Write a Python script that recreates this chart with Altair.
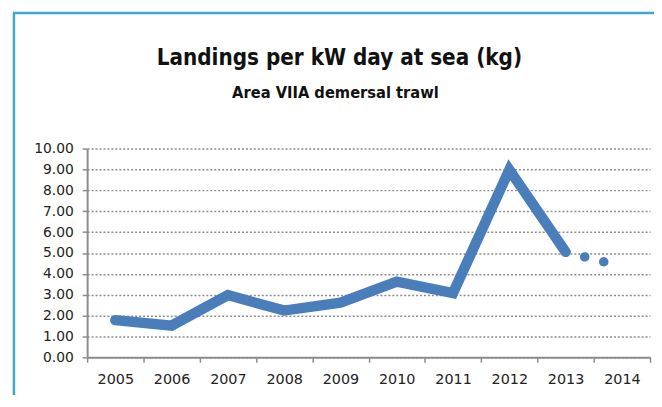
import altair as alt
import pandas as pd

years = ["2005", "2006", "2007", "2008", "2009", "2010", "2011", "2012", "2013", "2014"]
values = [1.78, 1.52, 2.98, 2.24, 2.62, 3.62, 3.08, 8.98, 5.05, 4.35]
solid_years = years[:9]
dotted_years = years[8:]
y_ticks = [0, 1, 2, 3, 4, 5, 6, 7, 8, 9, 10]
title_text = "Landings per kW day at sea (kg)"
subtitle_text = "Area VIIA demersal trawl"

df = pd.DataFrame({"year": years, "value": values})
df_solid = df[df["year"].isin(solid_years)]
df_dot = df[df["year"].isin(dotted_years)]
df_one = pd.DataFrame({"title": [title_text], "subtitle": [subtitle_text]})

LINE = "#4a7ebb"
BORDER = "#40a8cc"

x_axis = alt.Axis(
    title=None, labelAngle=0, tickBand="extent", grid=False,
    domainColor="#8c8c8c", domainWidth=2, tickColor="#8c8c8c", tickWidth=1.5,
    tickSize=5, labelPadding=10, labelFont="DejaVu Sans", labelFontSize=14.5,
    labelColor="#222222",
)
y_axis = alt.Axis(
    title=None, values=y_ticks, format=".2f", labelOverlap=False, tickCount=11,
    grid=True, gridColor="#8c8c8c", gridDash=[2, 2], gridWidth=1.5,
    domainColor="#8c8c8c", domainWidth=2, tickColor="#8c8c8c", tickWidth=1.5,
    tickSize=5, labelPadding=9, labelFont="DejaVu Sans", labelFontSize=14,
    labelColor="#222222",
)
x_scale = alt.Scale(type="band", paddingInner=0, paddingOuter=0, domain=years)
y_scale = alt.Scale(domain=[0, 10], nice=False)

solid = alt.Chart(df_solid).mark_line(
    color=LINE, strokeWidth=10.5, strokeCap="round", strokeJoin="miter"
).encode(
    x=alt.X("year:N", sort=years, scale=x_scale, axis=x_axis),
    y=alt.Y("value:Q", scale=y_scale, axis=y_axis),
)

dotted = alt.Chart(df_dot).mark_line(
    color=LINE, strokeWidth=9.5, strokeCap="round", strokeDash=[0.1, 19.8]
).encode(
    x=alt.X("year:N", sort=years, scale=x_scale, axis=x_axis),
    y=alt.Y("value:Q", scale=y_scale, axis=y_axis),
)

border_left = alt.Chart(df_one).mark_rule(color=BORDER, strokeWidth=2.5).encode(
    x=alt.value(-74), y=alt.value(-137), y2=alt.value(300)
)
border_top = alt.Chart(df_one).mark_rule(color=BORDER, strokeWidth=2.5).encode(
    x=alt.value(-75), x2=alt.value(600), y=alt.value(-137)
)

title_mark = alt.Chart(df_one).mark_text(
    font="DejaVu Sans Condensed", fontSize=22.5, fontWeight="bold", color="#111111",
    align="center", baseline="middle",
).encode(text="title:N", x=alt.value(255), y=alt.value(-91))

subtitle_mark = alt.Chart(df_one).mark_text(
    font="DejaVu Sans Condensed", fontSize=16.5, fontWeight="bold", color="#111111",
    align="center", baseline="middle",
).encode(text="subtitle:N", x=alt.value(251), y=alt.value(-56))

chart = alt.layer(solid, dotted, border_left, border_top, title_mark, subtitle_mark).properties(
    width=569,
    height=211,
    autosize=alt.AutoSizeParams(type="none"),
    padding={"left": 80, "top": 140, "right": 4, "bottom": 36},
).configure_view(stroke=None)

chart.save("out.html", embed_options={"renderer": "svg", "actions": False})
